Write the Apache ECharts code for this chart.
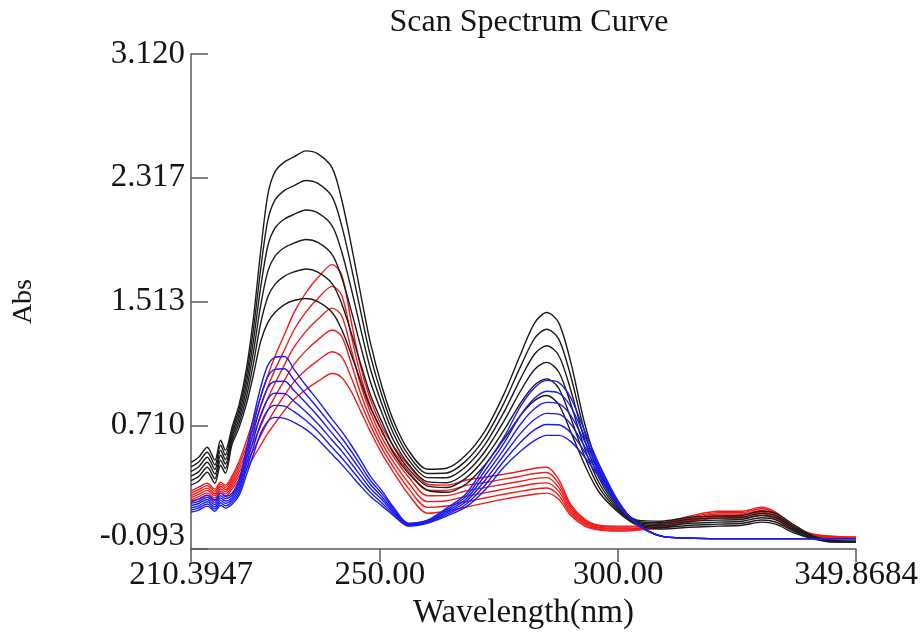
<!DOCTYPE html>
<html><head><meta charset="utf-8">
<script src="https://cdn.jsdelivr.net/npm/echarts@6/dist/echarts.min.js"></script>
<style>html,body{margin:0;padding:0;background:#fff}#c{width:924px;height:635px}</style>
</head><body><div id="c"></div>
<script>
const titleText = 'Scan Spectrum Curve';
const xName = 'Wavelength(nm)';
const yName = 'Abs';
const xTicks = [210.3947, 250, 300, 349.8684];
const xTickLabels = ['210.3947', '250.00', '300.00', '349.8684'];
const yTicks = [-0.093, 0.710, 1.513, 2.317, 3.120];
const yTickLabels = ['-0.093', '0.710', '1.513', '2.317', '3.120'];

const wavelengths = [210.3947, 212.0, 213.8, 215.4, 216.6, 217.6, 219.0, 220.5, 222.0, 223.5, 225.0, 226.5, 228.0, 230.0, 232.0, 234.5, 237.0, 240.0, 242.0, 244.0, 246.0, 248.0, 250.5, 253.0, 256.0, 260.0, 264.0, 268.0, 272.0, 276.0, 279.5, 282.5, 285.0, 287.5, 290.0, 293.0, 296.0, 300.0, 304.0, 309.0, 315.0, 321.0, 326.0, 330.0, 333.0, 337.0, 341.0, 345.0, 349.8684];

const black1 = [0.470, 0.503, 0.568, 0.483, 0.613, 0.548, 0.697, 0.846, 1.073, 1.410, 1.837, 2.206, 2.355, 2.420, 2.452, 2.491, 2.472, 2.381, 2.174, 1.882, 1.559, 1.248, 0.956, 0.730, 0.548, 0.425, 0.432, 0.516, 0.671, 0.911, 1.170, 1.377, 1.442, 1.377, 1.125, 0.717, 0.425, 0.198, 0.095, 0.088, 0.114, 0.121, 0.127, 0.153, 0.140, 0.062, -0.009, -0.035, -0.041];
const black2 = [0.440, 0.472, 0.536, 0.453, 0.581, 0.518, 0.675, 0.816, 1.028, 1.336, 1.720, 2.040, 2.172, 2.235, 2.266, 2.299, 2.280, 2.193, 2.006, 1.740, 1.446, 1.164, 0.899, 0.688, 0.518, 0.398, 0.401, 0.478, 0.627, 0.853, 1.091, 1.276, 1.334, 1.271, 1.034, 0.664, 0.395, 0.188, 0.088, 0.078, 0.101, 0.108, 0.114, 0.139, 0.126, 0.052, -0.013, -0.038, -0.042];
const black3 = [0.411, 0.441, 0.503, 0.424, 0.548, 0.488, 0.653, 0.786, 0.982, 1.262, 1.604, 1.874, 1.990, 2.049, 2.079, 2.108, 2.089, 2.005, 1.837, 1.597, 1.333, 1.079, 0.842, 0.647, 0.488, 0.371, 0.370, 0.441, 0.583, 0.794, 1.012, 1.175, 1.227, 1.165, 0.943, 0.611, 0.365, 0.178, 0.082, 0.068, 0.088, 0.095, 0.101, 0.125, 0.112, 0.042, -0.017, -0.040, -0.044];
const black4 = [0.381, 0.409, 0.471, 0.394, 0.516, 0.459, 0.631, 0.757, 0.937, 1.188, 1.487, 1.709, 1.807, 1.864, 1.893, 1.916, 1.897, 1.818, 1.669, 1.455, 1.221, 0.995, 0.785, 0.605, 0.459, 0.343, 0.338, 0.403, 0.539, 0.736, 0.933, 1.074, 1.119, 1.058, 0.853, 0.557, 0.336, 0.167, 0.075, 0.057, 0.075, 0.082, 0.088, 0.110, 0.097, 0.031, -0.020, -0.043, -0.045];
const black5 = [0.352, 0.378, 0.438, 0.364, 0.483, 0.429, 0.609, 0.727, 0.891, 1.114, 1.371, 1.543, 1.625, 1.679, 1.706, 1.725, 1.705, 1.630, 1.500, 1.312, 1.108, 0.911, 0.728, 0.564, 0.429, 0.316, 0.307, 0.366, 0.495, 0.677, 0.854, 0.973, 1.012, 0.952, 0.762, 0.504, 0.306, 0.157, 0.069, 0.047, 0.062, 0.069, 0.075, 0.096, 0.083, 0.021, -0.024, -0.045, -0.047];
const black6 = [0.322, 0.347, 0.406, 0.334, 0.451, 0.399, 0.587, 0.697, 0.846, 1.040, 1.254, 1.377, 1.442, 1.494, 1.520, 1.533, 1.513, 1.442, 1.332, 1.170, 0.995, 0.827, 0.671, 0.522, 0.399, 0.289, 0.276, 0.328, 0.451, 0.619, 0.775, 0.872, 0.904, 0.846, 0.671, 0.451, 0.276, 0.147, 0.062, 0.037, 0.049, 0.056, 0.062, 0.082, 0.069, 0.011, -0.028, -0.048, -0.048];

const red1 = [0.283, 0.309, 0.334, 0.296, 0.341, 0.322, 0.380, 0.477, 0.607, 0.749, 0.892, 1.034, 1.157, 1.300, 1.442, 1.572, 1.669, 1.753, 1.688, 1.384, 1.086, 0.879, 0.697, 0.568, 0.451, 0.328, 0.322, 0.354, 0.373, 0.393, 0.412, 0.432, 0.438, 0.360, 0.198, 0.101, 0.062, 0.056, 0.056, 0.075, 0.121, 0.153, 0.153, 0.179, 0.147, 0.049, 0.004, -0.009, -0.015];
const red2 = [0.269, 0.293, 0.319, 0.282, 0.327, 0.308, 0.363, 0.454, 0.571, 0.700, 0.830, 0.959, 1.070, 1.201, 1.329, 1.446, 1.534, 1.612, 1.555, 1.293, 1.029, 0.837, 0.662, 0.534, 0.413, 0.290, 0.288, 0.319, 0.339, 0.361, 0.380, 0.398, 0.404, 0.334, 0.184, 0.092, 0.056, 0.050, 0.051, 0.069, 0.113, 0.144, 0.144, 0.169, 0.138, 0.044, 0.001, -0.012, -0.016];
const red3 = [0.254, 0.278, 0.303, 0.267, 0.313, 0.293, 0.346, 0.430, 0.534, 0.651, 0.768, 0.884, 0.983, 1.103, 1.217, 1.320, 1.399, 1.471, 1.421, 1.202, 0.972, 0.796, 0.627, 0.500, 0.376, 0.253, 0.254, 0.284, 0.306, 0.328, 0.347, 0.364, 0.371, 0.308, 0.170, 0.083, 0.049, 0.043, 0.045, 0.062, 0.105, 0.135, 0.135, 0.158, 0.129, 0.039, -0.001, -0.014, -0.018];
const red4 = [0.240, 0.262, 0.288, 0.253, 0.298, 0.279, 0.330, 0.407, 0.498, 0.601, 0.705, 0.808, 0.897, 1.004, 1.104, 1.195, 1.265, 1.329, 1.288, 1.112, 0.915, 0.754, 0.592, 0.467, 0.338, 0.215, 0.221, 0.249, 0.272, 0.296, 0.315, 0.331, 0.337, 0.283, 0.155, 0.074, 0.043, 0.037, 0.040, 0.056, 0.098, 0.126, 0.126, 0.148, 0.119, 0.034, -0.004, -0.017, -0.019];
const red5 = [0.225, 0.247, 0.272, 0.238, 0.284, 0.264, 0.313, 0.383, 0.461, 0.552, 0.643, 0.733, 0.810, 0.906, 0.992, 1.069, 1.130, 1.188, 1.154, 1.021, 0.858, 0.713, 0.557, 0.433, 0.301, 0.178, 0.187, 0.214, 0.239, 0.263, 0.282, 0.297, 0.304, 0.257, 0.141, 0.065, 0.036, 0.030, 0.035, 0.049, 0.090, 0.117, 0.117, 0.137, 0.110, 0.029, -0.006, -0.019, -0.021];
const red6 = [0.211, 0.231, 0.257, 0.224, 0.270, 0.250, 0.296, 0.360, 0.425, 0.503, 0.581, 0.658, 0.723, 0.807, 0.879, 0.943, 0.995, 1.047, 1.021, 0.930, 0.801, 0.671, 0.522, 0.399, 0.263, 0.140, 0.153, 0.179, 0.205, 0.231, 0.250, 0.263, 0.270, 0.231, 0.127, 0.056, 0.030, 0.024, 0.030, 0.043, 0.082, 0.108, 0.108, 0.127, 0.101, 0.024, -0.009, -0.022, -0.022];

const blue1 = [0.218, 0.231, 0.257, 0.224, 0.270, 0.250, 0.270, 0.360, 0.555, 0.762, 0.956, 1.099, 1.151, 1.157, 1.073, 0.969, 0.872, 0.749, 0.671, 0.581, 0.483, 0.380, 0.283, 0.173, 0.075, 0.095, 0.173, 0.263, 0.445, 0.632, 0.833, 0.956, 1.002, 0.989, 0.891, 0.671, 0.457, 0.218, 0.069, -0.009, -0.022, -0.025, -0.025, -0.025, -0.025, -0.025, -0.025, -0.025, -0.025];
const blue2 = [0.204, 0.217, 0.243, 0.210, 0.254, 0.235, 0.256, 0.339, 0.521, 0.714, 0.896, 1.026, 1.073, 1.077, 1.004, 0.912, 0.821, 0.704, 0.628, 0.542, 0.449, 0.354, 0.264, 0.163, 0.071, 0.091, 0.163, 0.246, 0.414, 0.593, 0.775, 0.887, 0.931, 0.920, 0.834, 0.637, 0.440, 0.213, 0.069, -0.009, -0.022, -0.025, -0.025, -0.025, -0.025, -0.025, -0.025, -0.025, -0.025];
const blue3 = [0.190, 0.203, 0.229, 0.196, 0.239, 0.219, 0.241, 0.319, 0.487, 0.666, 0.837, 0.954, 0.995, 0.996, 0.936, 0.855, 0.771, 0.658, 0.585, 0.503, 0.416, 0.328, 0.244, 0.152, 0.067, 0.087, 0.152, 0.229, 0.383, 0.554, 0.717, 0.819, 0.859, 0.851, 0.777, 0.604, 0.423, 0.208, 0.069, -0.009, -0.022, -0.025, -0.025, -0.025, -0.025, -0.025, -0.025, -0.025, -0.025];
const blue4 = [0.175, 0.188, 0.214, 0.181, 0.223, 0.204, 0.227, 0.298, 0.454, 0.618, 0.777, 0.881, 0.918, 0.916, 0.867, 0.798, 0.720, 0.613, 0.543, 0.464, 0.382, 0.302, 0.225, 0.142, 0.064, 0.083, 0.142, 0.213, 0.351, 0.516, 0.658, 0.750, 0.788, 0.783, 0.720, 0.570, 0.407, 0.202, 0.069, -0.009, -0.022, -0.025, -0.025, -0.025, -0.025, -0.025, -0.025, -0.025, -0.025];
const blue5 = [0.161, 0.174, 0.200, 0.167, 0.208, 0.188, 0.212, 0.278, 0.420, 0.570, 0.718, 0.809, 0.840, 0.835, 0.799, 0.741, 0.670, 0.567, 0.500, 0.425, 0.349, 0.276, 0.205, 0.131, 0.060, 0.079, 0.131, 0.196, 0.320, 0.477, 0.600, 0.682, 0.716, 0.714, 0.663, 0.537, 0.390, 0.197, 0.069, -0.009, -0.022, -0.025, -0.025, -0.025, -0.025, -0.025, -0.025, -0.025, -0.025];
const blue6 = [0.147, 0.160, 0.186, 0.153, 0.192, 0.173, 0.198, 0.257, 0.386, 0.522, 0.658, 0.736, 0.762, 0.755, 0.730, 0.684, 0.619, 0.522, 0.457, 0.386, 0.315, 0.250, 0.186, 0.121, 0.056, 0.075, 0.121, 0.179, 0.289, 0.438, 0.542, 0.613, 0.645, 0.645, 0.606, 0.503, 0.373, 0.192, 0.069, -0.009, -0.022, -0.025, -0.025, -0.025, -0.025, -0.025, -0.025, -0.025, -0.025];

const FONT = '"Liberation Serif", "Times New Roman", serif';
const TXT = '#151515';
const AX = '#5a5a5a';

function pts(vals) { return wavelengths.map((w, i) => [w, vals[i]]); }
function lab(ticks, labels, v) {
  const i = ticks.findIndex(t => Math.abs(t - v) < 1e-6);
  return i >= 0 ? labels[i] : '';
}

const groups = [
  { name: 'red', color: '#ee1c1c', arrs: [red1, red2, red3, red4, red5, red6] },
  { name: 'black', color: '#1c1c1c', arrs: [black1, black2, black3, black4, black5, black6] },
  { name: 'blue', color: '#1c1cee', arrs: [blue1, blue2, blue3, blue4, blue5, blue6] }
];
const series = [];
groups.forEach(g => g.arrs.forEach((a, k) => series.push({
  type: 'line', name: g.name + (k + 1), data: pts(a), showSymbol: false, symbol: 'none',
  smooth: 0.3, lineStyle: { color: g.color, width: 1.4 }, silent: true
})));

const chart = echarts.init(document.getElementById('c'), null, { renderer: 'canvas' });
chart.setOption({
  animation: false,
  backgroundColor: '#ffffff',
  title: {
    text: titleText, left: 524, top: 2, textAlign: 'center',
    textStyle: { fontFamily: FONT, fontSize: 32, fontWeight: 'normal', color: TXT }
  },
  grid: { left: 191, right: 68, top: 54, bottom: 85, containLabel: false },
  xAxis: {
    type: 'value', min: 210.3947, max: 349.8684,
    name: xName, nameLocation: 'middle', nameGap: 47,
    nameTextStyle: { fontFamily: FONT, fontSize: 33, color: TXT },
    axisLine: { show: true, onZero: false, lineStyle: { color: AX, width: 1.5 } },
    axisTick: { show: true, customValues: xTicks, inside: false, length: 13, lineStyle: { color: AX, width: 1.5 } },
    axisLabel: {
      customValues: xTicks, margin: 10, fontFamily: FONT, fontSize: 33, color: TXT,
      formatter: v => lab(xTicks, xTickLabels, v)
    },
    splitLine: { show: false }
  },
  yAxis: {
    type: 'value', min: -0.093, max: 3.120,
    name: yName, nameLocation: 'middle', nameGap: 153, nameRotate: 90,
    nameTextStyle: { fontFamily: FONT, fontSize: 28, color: TXT },
    axisLine: { show: true, onZero: false, lineStyle: { color: AX, width: 1.5 } },
    axisTick: { show: true, customValues: yTicks, inside: true, length: 17, lineStyle: { color: AX, width: 1.5 } },
    axisLabel: {
      customValues: yTicks, margin: 6, fontFamily: FONT, fontSize: 33, color: TXT,
      formatter: v => {
        const s = lab(yTicks, yTickLabels, v);
        return v < 0 ? '{lo|' + s + '}' : s;
      },
      rich: { lo: { fontFamily: FONT, fontSize: 33, color: TXT, padding: [0, 0, 26, 0] } }
    },
    splitLine: { show: false }
  },
  series: series
});
</script>
</body></html>
